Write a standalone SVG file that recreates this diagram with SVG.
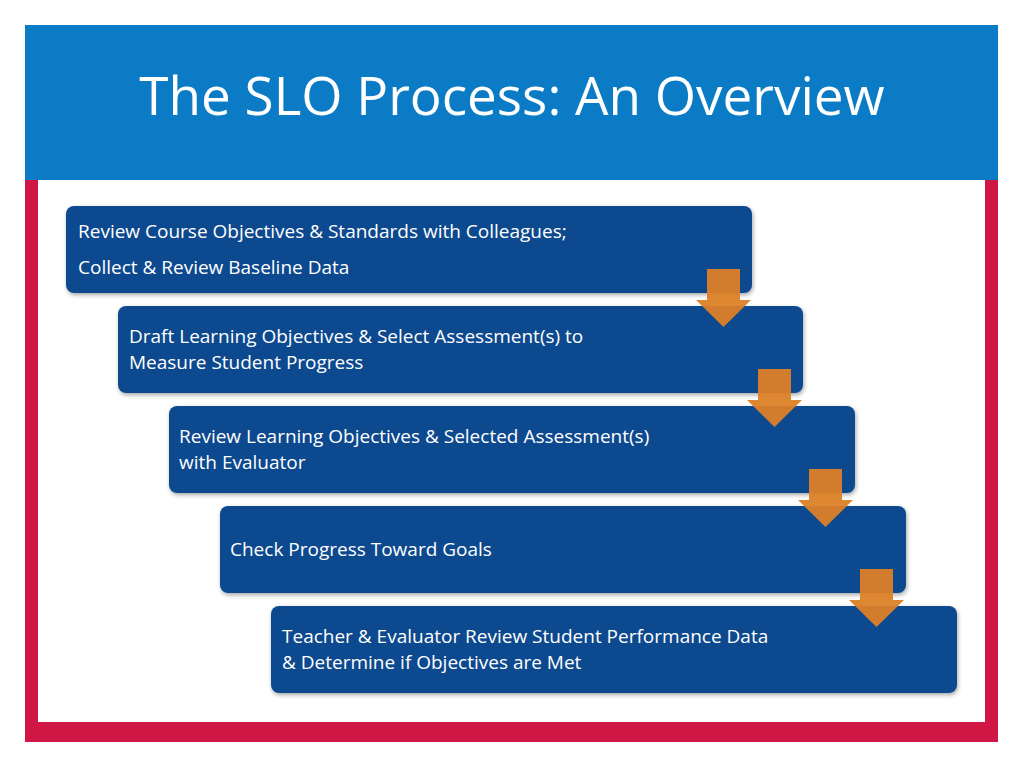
<svg xmlns="http://www.w3.org/2000/svg" width="1024" height="768" viewBox="0 0 1024 768">
<style>
.box{fill:#0D4A8E;}
.t{font-family:"Open Sans","Liberation Sans",sans-serif;font-size:19px;fill:#fff;}
.arr{fill:#DC8128;opacity:0.95;}
</style>
<defs>
<filter id="sh" x="-5%" y="-10%" width="110%" height="130%"><feDropShadow dx="1" dy="2" stdDeviation="2" flood-color="#000" flood-opacity="0.35"/></filter>
<path id="ar" d="M0 0 H33 V31 H44 L16.5 58 L-11 31 H0 Z"/>
</defs>
<rect width="1024" height="768" fill="#fff"/>
<rect x="25" y="25" width="973" height="717" fill="#CF1645"/>
<rect x="38" y="180" width="947" height="542" fill="#fff"/>
<rect x="25" y="25" width="973" height="155" fill="#0A7BC4"/>
<text x="512" y="115" text-anchor="middle" font-family="Open Sans, Liberation Sans, sans-serif" font-size="53" fill="#fff">The SLO Process: An Overview</text>
<g id="n1"><rect class="box" x="66" y="206" width="686" height="87" rx="8" filter="url(#sh)"/>
<text class="t" x="78" y="238">Review Course Objectives &amp; Standards with Colleagues;</text>
<text class="t" x="78" y="274">Collect &amp; Review Baseline Data</text></g>
<g id="n2"><rect class="box" x="118" y="306" width="685" height="87" rx="8" filter="url(#sh)"/>
<text class="t" x="129" y="343">Draft Learning Objectives &amp; Select Assessment(s) to</text>
<text class="t" x="129" y="369">Measure Student Progress</text></g>
<g id="n3"><rect class="box" x="169" y="406" width="686" height="87" rx="8" filter="url(#sh)"/>
<text class="t" x="179" y="443">Review Learning Objectives &amp; Selected Assessment(s)</text>
<text class="t" x="179" y="469">with Evaluator</text></g>
<g id="n4"><rect class="box" x="220" y="506" width="686" height="87" rx="8" filter="url(#sh)"/>
<text class="t" x="230" y="556">Check Progress Toward Goals</text></g>
<g id="n5"><rect class="box" x="271" y="606" width="686" height="87" rx="8" filter="url(#sh)"/>
<text class="t" x="282" y="643">Teacher &amp; Evaluator Review Student Performance Data</text>
<text class="t" x="282" y="669">&amp; Determine if Objectives are Met</text></g>
<g id="connectors">
<use href="#ar" class="arr" x="707" y="269"/>
<use href="#ar" class="arr" x="758" y="369"/>
<use href="#ar" class="arr" x="809" y="469"/>
<use href="#ar" class="arr" x="860" y="569"/>
</g>
</svg>
